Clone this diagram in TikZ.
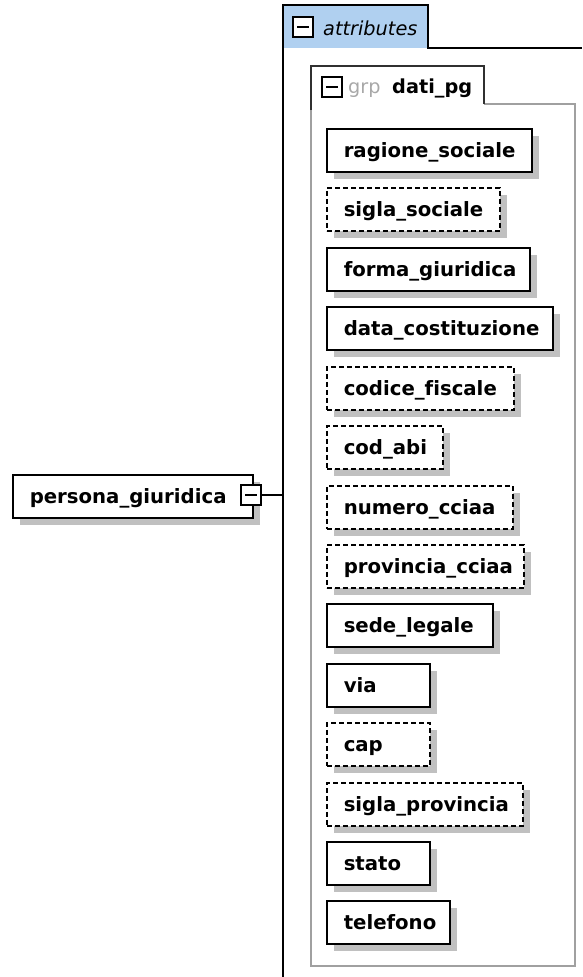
\documentclass[tikz,border=0pt]{standalone}
\usepackage{fontspec}
\setmainfont[Ligatures=NoCommon]{DejaVu Sans}
\usetikzlibrary{calc}
\definecolor{shadowgray}{HTML}{C0C0C0}
\definecolor{tabblue}{HTML}{B0D0F0}
\definecolor{grpgray}{HTML}{A0A0A0}
\definecolor{grpdark}{HTML}{303030}
\definecolor{grptext}{HTML}{A8A8A8}
\tikzset{
  elembox/.style={draw=black, line width=1.5pt, fill=white, anchor=north west,
    minimum height=43pt, inner xsep=17pt, inner ysep=0pt, text height=17pt, text depth=3pt,
    font=\fontsize{19.7}{22}\selectfont\bfseries},
  optbox/.style={dash pattern=on 5pt off 3pt},
  minusbox/.style={draw=black, line width=2pt, fill=white, minimum size=20pt, inner sep=0pt,
    path picture={\draw[line width=2pt] ($(path picture bounding box.west)+(4pt,0pt)$) -- ($(path picture bounding box.east)+(-4pt,0pt)$);}},
  labeltext/.style={anchor=base west, inner sep=0pt, font=\fontsize{19.3}{22}\selectfont},
  frameline/.style={draw=black, line width=1.5pt},
}
\newcommand\elem[5]{%
  \fill[shadowgray] (334,{#2+8}) rectangle ++(#3,43);
  \node[elembox,#5] (#1) at (326,#2) {\makebox[\dimexpr#3pt-34pt\relax][l]{#4}};
}
\begin{document}
\begin{tikzpicture}[x=1pt,y=-1pt]
\useasboundingbox (0,0) rectangle (582,977);
% attributes frame
\fill[tabblue] (283,5) rectangle (428,48);
\draw[frameline] (283,977) -- (283,5) -- (428,5) -- (428,48) -- (582,48);
\node[minusbox] (attrminus) at (303,27) {};
\node[labeltext, font=\fontsize{19.3}{22}\selectfont\itshape] (attrlabel) at (323,35) {attributes};
% group box
\draw[draw=grpgray, line width=1.5pt] (311,104) -- (311,966) -- (575,966) -- (575,104) -- (484,104);
\draw[draw=grpdark, line width=1.5pt] (311,110) -- (311,66) -- (484,66) -- (484,104);
\node[minusbox] (grpminus) at (332,87) {};
\node[labeltext, text=grptext] (grplabel) at (348,93) {grp};
\node[labeltext, font=\fontsize{19.3}{22}\selectfont\bfseries] (grpname) at (392,93) {dati\_pg};
% elements
\elem{e1}{128}{205}{ragione\_sociale}{}
\elem{e2}{187}{173}{sigla\_sociale}{optbox}
\elem{e3}{247}{203}{forma\_giuridica}{}
\elem{e4}{306}{226}{data\_costituzione}{}
\elem{e5}{366}{187}{codice\_fiscale}{optbox}
\elem{e6}{425}{116}{cod\_abi}{optbox}
\elem{e7}{485}{186}{numero\_cciaa}{optbox}
\elem{e8}{544}{197}{provincia\_cciaa}{optbox}
\elem{e9}{603}{166}{sede\_legale}{}
\elem{e10}{663}{103}{via}{}
\elem{e11}{722}{103}{cap}{optbox}
\elem{e12}{782}{196}{sigla\_provincia}{optbox}
\elem{e13}{841}{103}{stato}{}
\elem{e14}{900}{123}{telefono}{}
% root element
\fill[shadowgray] (20,482) rectangle ++(240,43);
\node[elembox] (pg) at (12,474) {\makebox[206pt][l]{persona\_giuridica}};
\node[minusbox] (pminus) at (251,495) {};
\coordinate (attrL) at (283,495);
\draw[line width=1.5pt] (pminus.east) -- (attrL);
\end{tikzpicture}
\end{document}
